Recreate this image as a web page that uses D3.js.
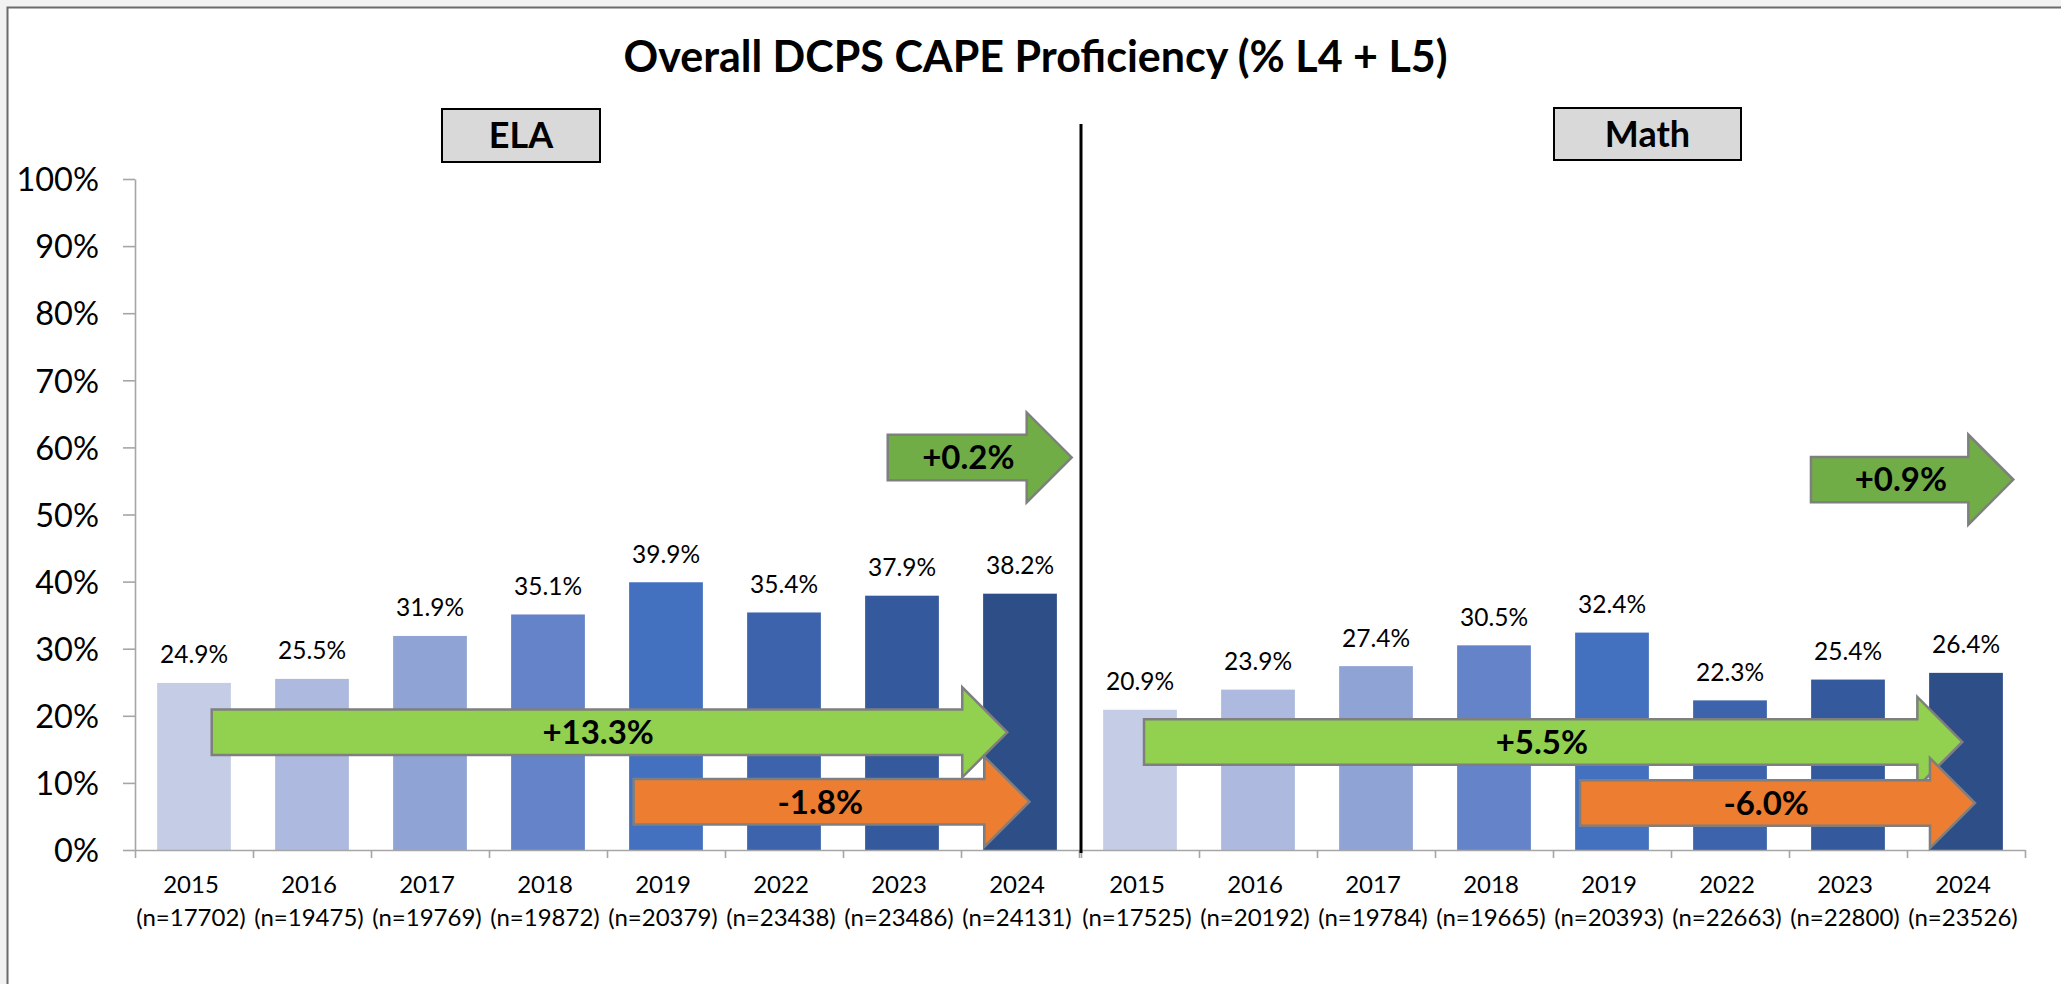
<!DOCTYPE html>
<html><head><meta charset="utf-8">
<script src="https://cdn.jsdelivr.net/npm/d3@7"></script>
<style>html,body{margin:0;padding:0;background:#f2f2f2;} svg{display:block;font-family:Lato,'Open Sans',sans-serif;}</style>
</head><body>
<script>
// ---- data ----
const years = ['2015','2016','2017','2018','2019','2022','2023','2024'];
const elaValues = [24.9, 25.5, 31.9, 35.1, 39.9, 35.4, 37.9, 38.2];
const elaN = [17702, 19475, 19769, 19872, 20379, 23438, 23486, 24131];
const mathValues = [20.9, 23.9, 27.4, 30.5, 32.4, 22.3, 25.4, 26.4];
const mathN = [17525, 20192, 19784, 19665, 20393, 22663, 22800, 23526];
const yTicks = [0,10,20,30,40,50,60,70,80,90,100];
const title = 'Overall DCPS CAPE Proficiency (% L4 + L5)';
const panelNames = ['ELA','Math'];
// change arrows: from/to in category positions, at = value level (%)
const elaArrows = [
  {kind:'long', from:0.65, to:7.392, at:17.54, label:'+13.3%'},
  {kind:'drop', from:4.226, to:7.58, at:7.2, label:'-1.8%'},
  {kind:'last', from:6.379, to:7.938, at:58.5, label:'+0.2%'}
];
const mathArrows = [
  {kind:'long', from:0.534, to:7.469, at:16.1, label:'+5.5%'},
  {kind:'drop', from:4.229, to:7.576, at:7.0, label:'-6.0%'},
  {kind:'last', from:6.186, to:7.901, at:55.2, label:'+0.9%'}
];

// ---- styles ----
const barColors = ['#c5cde6','#adb9de','#8fa3d4','#6483c8','#4371bf','#3c63ab','#35599d','#2e4e88'];
const arrowFill = {long:'#92d050', drop:'#ed7d31', last:'#70ad47'};
const W = 2061, H = 984;
const FONT = "Lato, 'Open Sans', sans-serif";

const svg = d3.select('body').append('svg').attr('width', W).attr('height', H);
svg.append('rect').attr('x',0).attr('y',0).attr('width',W).attr('height',H).attr('fill','#f2f2f2');
svg.append('rect').attr('x',7.5).attr('y',7.5).attr('width',W+20).attr('height',H+20)
  .attr('fill','#ffffff').attr('stroke','#6b6b6b').attr('stroke-width',2);

// title
svg.append('text').attr('x',1035.5).attr('y',72).attr('text-anchor','middle')
  .attr('font-size',43).attr('font-weight','bold').attr('fill','#000').text(title);

const y = d3.scaleLinear().domain([0,100]).range([850,179]);

const panels = [
  {name:panelNames[0], values:elaValues, n:elaN, arrows:elaArrows, range:[135,1079], box:[442,109,158,53]},
  {name:panelNames[1], values:mathValues, n:mathN, arrows:mathArrows, range:[1081,2025], box:[1554,108,187,52]}
];

// y axis
const yAxis = svg.append('g').attr('transform','translate(135,0)')
  .call(d3.axisLeft(y).tickValues(yTicks).tickFormat(d=>d+'%').tickSize(12).tickSizeOuter(0).tickPadding(24));
yAxis.select('.domain').attr('stroke','#a6a6a6').attr('stroke-width',1.6);
yAxis.selectAll('.tick line').attr('stroke','#a6a6a6').attr('stroke-width',1.6);
yAxis.selectAll('.tick text').attr('font-family',FONT).attr('font-size',32.5).attr('fill','#000').attr('dy','0.36em');

function arrowPath(xl, xt, cy){
  const hl=45, hh=45, bh=22.7;
  const xh = xt-hl;
  return `M${xl},${cy-bh}L${xh},${cy-bh}L${xh},${cy-hh}L${xt},${cy}L${xh},${cy+hh}L${xh},${cy+bh}L${xl},${cy+bh}Z`;
}

panels.forEach(p => {
  const x = d3.scaleBand().domain(years).range(p.range).paddingInner(0.375).paddingOuter(0.1875);
  const pos = d3.scaleLinear().domain([0, years.length]).range(p.range);
  const g = svg.append('g');

  // bars
  g.selectAll('rect.bar').data(p.values).join('rect').attr('class','bar')
    .attr('x',(d,i)=>x(years[i])).attr('width',x.bandwidth())
    .attr('y',d=>y(d)).attr('height',d=>y(0)-y(d))
    .attr('fill',(d,i)=>barColors[i]);

  // value labels
  g.selectAll('text.val').data(p.values).join('text').attr('class','val')
    .attr('x',(d,i)=>x(years[i])+x.bandwidth()/2).attr('y',d=>y(d)-19.5)
    .attr('text-anchor','middle').attr('font-size',24.5).attr('fill','#000')
    .text(d=>d.toFixed(1)+'%');

  // x axis (band boundaries)
  const xa = g.append('g').attr('transform','translate(0,850)')
    .call(d3.axisBottom(pos).tickValues(d3.range(0, years.length+1)).tickFormat('').tickSize(8).tickSizeOuter(0));
  xa.select('.domain').attr('stroke','#a6a6a6').attr('stroke-width',1.6);
  xa.selectAll('.tick line').attr('stroke','#a6a6a6').attr('stroke-width',1.6);

  // category labels
  const lab = g.selectAll('text.cat').data(years).join('text').attr('class','cat')
    .attr('text-anchor','middle').attr('font-size',24).attr('fill','#000');
  lab.append('tspan').attr('x',d=>x(d)+x.bandwidth()/2-3).attr('y',892.7).text(d=>d);
  lab.append('tspan').attr('x',d=>x(d)+x.bandwidth()/2-3).attr('y',925.5).text((d,i)=>'(n='+p.n[i]+')');

  // arrows
  p.arrows.forEach(a => {
    const xl = pos(a.from), xt = pos(a.to), cy = y(a.at);
    g.append('path').attr('d',arrowPath(xl,xt,cy)).attr('fill',arrowFill[a.kind])
      .attr('stroke','#7f7f7f').attr('stroke-width',2.5).attr('stroke-linejoin','miter');
    const xh = xt-45, x2 = xh + (45-22.7)*45/45;
    g.append('text').attr('x',(xl+x2)/2).attr('y',cy+0.358*33).attr('text-anchor','middle')
      .attr('font-size',33).attr('font-weight','bold').attr('fill','#000').text(a.label);
  });

  // panel label box
  const [bx,by,bw,bhh] = p.box;
  g.append('rect').attr('x',bx).attr('y',by).attr('width',bw).attr('height',bhh)
    .attr('fill','#d9d9d9').attr('stroke','#000').attr('stroke-width',2);
  g.append('text').attr('x',bx+bw/2).attr('y',by+bhh/2+0.358*36).attr('text-anchor','middle')
    .attr('font-size',36).attr('font-weight','bold').attr('fill','#000').text(p.name);
});

// divider
svg.append('line').attr('x1',1081).attr('x2',1081).attr('y1',124).attr('y2',853)
  .attr('stroke','#000').attr('stroke-width',3);
</script>
</body></html>
